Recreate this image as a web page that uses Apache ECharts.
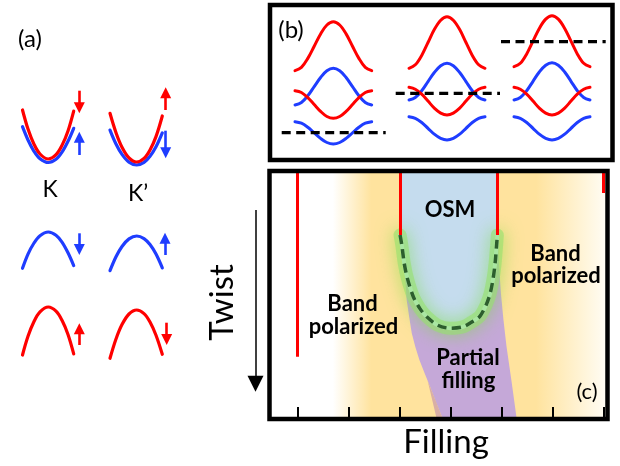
<!DOCTYPE html>
<html><head><meta charset="utf-8">
<script src="https://cdn.jsdelivr.net/npm/echarts@6/dist/echarts.min.js"></script>
<style>html,body{margin:0;padding:0;background:#fff}#c{width:620px;height:466px}</style>
</head><body><div id="c"></div>
<script>
// ===== Panel (a): valley dispersions, k (x) vs energy (y) =====
const kX  = [1.25, 1.8, 2.4, 3.0, 3.83, 4.6, 5.2, 5.8, 6.37];
const kpX = [10.0, 10.6, 11.2, 11.9, 12.67, 13.4, 14.0, 14.6, 15.23];
const aKcondRed   = [27.0, 25.09, 23.58, 22.6, 22.1, 22.53, 23.46, 24.91, 26.89];
const aKcondBlue  = [25.33, 24.0, 22.87, 22.13, 21.75, 22.07, 22.78, 23.87, 25.17];
const aKpCondRed  = [26.67, 24.73, 23.28, 22.21, 21.8, 22.16, 23.01, 24.34, 26.4];
const aKpCondBlue = [24.99, 23.6, 22.56, 21.79, 21.5, 21.76, 22.37, 23.32, 24.71];
const aKvalBlue   = [11.17, 12.59, 13.7, 14.43, 14.8, 14.48, 13.79, 12.72, 11.44];
const aKpValBlue  = [10.93, 12.32, 13.35, 14.11, 14.4, 14.14, 13.54, 12.59, 11.21];
const aKvalRed    = [2.5, 4.37, 5.85, 6.81, 7.3, 6.88, 5.97, 4.55, 2.61];
const aKpValRed   = [2.17, 4.1, 5.54, 6.6, 7.0, 6.64, 5.8, 4.48, 2.57];
// spin arrows: [x, tail, tip]
const aArrowsRed  = [[6.93, 28.93, 26.67], [15.57, 27.0, 29.27], [6.93, 3.5, 5.67], [15.67, 5.73, 3.5]];
const aArrowsBlue = [[6.93, 22.5, 24.83], [15.57, 24.93, 22.17], [6.93, 14.67, 12.5], [15.5, 12.5, 14.73]];

// ===== Panel (b): band sketches =====
const bX1 = [2.5, 3.14, 3.78, 4.42, 5.06, 5.69, 6.33, 6.97, 7.61, 8.25, 8.89, 9.53, 10.17];
const bX2 = [13.9, 14.53, 15.17, 15.8, 16.43, 17.07, 17.7, 18.33, 18.97, 19.6, 20.23, 20.87, 21.5];
const bX3 = [24.4, 25.03, 25.67, 26.3, 26.93, 27.57, 28.2, 28.83, 29.47, 30.1, 30.73, 31.37, 32.0];
const b1RedTop = [8.93, 9.26, 10.16, 11.38, 12.61, 13.5, 13.83, 13.5, 12.61, 11.38, 10.16, 9.26, 8.93];
const b1BlueMid = [5.5, 5.75, 6.42, 7.34, 8.25, 8.92, 9.17, 8.92, 8.25, 7.34, 6.42, 5.75, 5.5];
const b1RedMid = [6.93, 6.75, 6.24, 5.55, 4.86, 4.35, 4.17, 4.35, 4.86, 5.55, 6.24, 6.75, 6.93];
const b1BlueBot = [3.83, 3.68, 3.27, 2.72, 2.16, 1.75, 1.6, 1.75, 2.16, 2.72, 3.27, 3.68, 3.83];
const b2RedTop = [9.17, 9.52, 10.46, 11.75, 13.04, 13.98, 14.33, 13.98, 13.04, 11.75, 10.46, 9.52, 9.17];
const b2BlueMid = [6.0, 6.25, 6.92, 7.84, 8.75, 9.42, 9.67, 9.42, 8.75, 7.84, 6.92, 6.25, 6.0];
const b2RedMid = [7.27, 7.08, 6.58, 5.89, 5.19, 4.69, 4.5, 4.69, 5.19, 5.89, 6.58, 7.08, 7.27];
const b2BlueBot = [4.33, 4.17, 3.75, 3.17, 2.58, 2.16, 2.0, 2.16, 2.58, 3.17, 3.75, 4.17, 4.33];
const b3RedTop = [9.33, 9.67, 10.61, 11.88, 13.16, 14.09, 14.43, 14.09, 13.16, 11.88, 10.61, 9.67, 9.33];
const b3BlueMid = [6.0, 6.25, 6.93, 7.87, 8.8, 9.48, 9.73, 9.48, 8.8, 7.87, 6.93, 6.25, 6.0];
const b3RedMid = [7.27, 7.08, 6.58, 5.89, 5.19, 4.69, 4.5, 4.69, 5.19, 5.89, 6.58, 7.08, 7.27];
const b3BlueBot = [4.33, 4.17, 3.75, 3.17, 2.58, 2.16, 2.0, 2.16, 2.58, 3.17, 3.75, 4.17, 4.33];
const bFermi = [[[1.17, 2.73], [11.57, 2.73]], [[12.57, 6.67], [23.0, 6.67]], [[23.1, 11.83], [33.57, 11.83]]];

// ===== Panel (c): phase diagram, filling (x) vs twist (y, downward) =====
const fillingTicks = [-3, -2, -1, 0, 1, 2, 3];
const insulatorLines = [[-3, 0.749], [-0.99, 0.258], [0.92, 0.258], [3.0, 0.089]]; // [filling, twist end]
const bandPolarizedSpan = [-2.31, 3.083];
const osmBoundary = [[-0.99, 0.258], [-0.955, 0.30], [-0.91, 0.37], [-0.85, 0.43], [-0.73, 0.507], [-0.60, 0.555],
  [-0.466, 0.588], [-0.25, 0.622], [0.0, 0.634], [0.25, 0.628], [0.45, 0.605], [0.58, 0.585], [0.70, 0.54],
  [0.78, 0.493], [0.84, 0.43], [0.876, 0.372], [0.905, 0.30], [0.92, 0.258]];
const partialRegion = [[-0.90, 0.40], [-0.88, 0.46], [-0.86, 0.52], [-0.81, 0.59], [-0.76, 0.654], [-0.69, 0.71],
  [-0.61, 0.762], [-0.51, 0.815], [-0.40, 0.87], [-0.28, 0.935], [-0.15, 1.0], [1.30, 1.0], [1.20, 0.85], [1.10, 0.708],
  [1.04, 0.60], [0.99, 0.493], [0.95, 0.37], [0.93, 0.258], [0.0, 0.258], [-0.90, 0.258]];
const mixedWedge = [[-0.45, 0.845], [-0.27, 1.0], [-0.15, 1.0], [-0.40, 0.87]];
const twistArrow = [0, 1]; // tail, tip (fraction of arrow span)

const gridA = {left: 10, top: 80, width: 170, height: 300};
const gridB = {left: 270, top: 5, width: 342.5, height: 155};
const gridC = {left: 269.5, top: 171, width: 338, height: 248};
const gridD = {left: 245, top: 210, width: 21, height: 181.7};

const RED = '#FF0000', BLUE = '#1F3DFF';
const FONT = 'Lato, "Open Sans", sans-serif';
const zip = (xs, ys) => xs.map((x, i) => [x, ys[i]]);
function curve(gi, data, color, w, z, extra) {
  return Object.assign({type: 'line', xAxisIndex: gi, yAxisIndex: gi, data: data, smooth: 0.35,
    symbol: 'none', silent: true, animation: false, z: z || 2,
    lineStyle: {color: color, width: w, cap: 'round'}}, extra || {});
}
// arrow head symbol is centred on the line end; pull the end back by half a head so the tip lands on "tip"
function arrows(gi, list, color, width, size, halfHead) {
  return {type: 'lines', coordinateSystem: 'cartesian2d', xAxisIndex: gi, yAxisIndex: gi, silent: true, animation: false,
    clip: false, symbol: ['none', 'triangle'], symbolSize: size, z: 5,
    itemStyle: {color: color},
    lineStyle: {color: color, width: width, opacity: 1},
    data: list.map(a => ({coords: [[a[0], a[1]], [a[0], a[2] - Math.sign(a[2] - a[1]) * halfHead]]}))};
}

const series = [];
// (a)
series.push(curve(0, zip(kX, aKcondBlue), BLUE, 3.2, 2));
series.push(curve(0, zip(kX, aKcondRed), RED, 3.2, 3));
series.push(curve(0, zip(kpX, aKpCondBlue), BLUE, 3.2, 2));
series.push(curve(0, zip(kpX, aKpCondRed), RED, 3.2, 3));
series.push(curve(0, zip(kX, aKvalBlue), BLUE, 3.2, 2));
series.push(curve(0, zip(kpX, aKpValBlue), BLUE, 3.2, 2));
series.push(curve(0, zip(kX, aKvalRed), RED, 3.2, 2));
series.push(curve(0, zip(kpX, aKpValRed), RED, 3.2, 2));
series.push(arrows(0, aArrowsRed, RED, 2.6, [11, 11], 0.55));
series.push(arrows(0, aArrowsBlue, BLUE, 2.6, [11, 11], 0.55));
// (b)
[[bX1, b1RedTop, b1BlueMid, b1RedMid, b1BlueBot], [bX2, b2RedTop, b2BlueMid, b2RedMid, b2BlueBot],
 [bX3, b3RedTop, b3BlueMid, b3RedMid, b3BlueBot]].forEach(c => {
  series.push(curve(1, zip(c[0], c[1]), RED, 3, 2));
  series.push(curve(1, zip(c[0], c[2]), BLUE, 3, 2));
  series.push(curve(1, zip(c[0], c[3]), RED, 3, 3));
  series.push(curve(1, zip(c[0], c[4]), BLUE, 3, 2));
});
bFermi.forEach(seg => series.push(Object.assign(curve(1, seg, '#000', 3.2, 6), {smooth: false,
  lineStyle: {color: '#000', width: 3.2, type: [9, 5.5]}})));
// (c)
series.push({type: 'custom', xAxisIndex: 2, yAxisIndex: 2, data: [[0, 0]], z: 1, silent: true, animation: false,
  renderItem: (p, api) => {
    const a = api.coord([bandPolarizedSpan[0], 0]), b = api.coord([bandPolarizedSpan[1], 1]);
    return {type: 'rect', shape: {x: a[0], y: a[1], width: b[0] - a[0], height: b[1] - a[1]},
      style: {fill: new echarts.graphic.LinearGradient(0, 0, 1, 0, [
        {offset: 0, color: '#FFFFFF'}, {offset: 0.14, color: '#FFE39E'}, {offset: 0.74, color: '#FFE39E'},
        {offset: 1, color: '#FFFDF6'}])}};
  }});
series.push({type: 'custom', xAxisIndex: 2, yAxisIndex: 2, data: [[0, 0]], z: 2, silent: true, animation: false,
  renderItem: (p, api) => ({type: 'polygon', shape: {points: partialRegion.map(pt => api.coord(pt))}, style: {fill: '#C5A8D8'}})});
series.push({type: 'custom', xAxisIndex: 2, yAxisIndex: 2, data: [[0, 0]], z: 2, silent: true, animation: false,
  renderItem: (p, api) => ({type: 'polygon', shape: {points: mixedWedge.map(pt => api.coord(pt))}, style: {fill: '#D9AFA6'}})});
series.push(curve(2, osmBoundary, '#C5DCEE', 0, 3, {smooth: 0.3, areaStyle: {origin: 'start', color: '#C5DCEE', opacity: 1}}));
series.push(curve(2, osmBoundary, 'rgba(150,225,110,0.6)', 13, 4, {smooth: 0.3,
  lineStyle: {color: 'rgba(150,225,110,0.6)', width: 13, cap: 'round', shadowBlur: 18, shadowColor: 'rgba(120,220,60,1)'}}));
series.push(curve(2, osmBoundary, '#A9E6A2', 4, 5, {smooth: 0.3}));
series.push(curve(2, osmBoundary, '#2D5E2D', 3.5, 6, {smooth: 0.3,
  lineStyle: {color: '#2D5E2D', width: 3.5, type: [9, 5.5]}}));
series.push({type: 'lines', coordinateSystem: 'cartesian2d', xAxisIndex: 2, yAxisIndex: 2, silent: true, animation: false,
  z: 7, lineStyle: {color: RED, width: 3, opacity: 1}, symbol: 'none',
  data: insulatorLines.map(l => ({coords: [[l[0], 0], [l[0], l[1]]]}))});
// twist arrow
series.push(arrows(3, [[0.5, twistArrow[0], twistArrow[1]]], '#000', 1.5, [15, 16], 8 / gridD.height));

const hiddenAxis = (min, max, inverse) => ({type: 'value', min: min, max: max, inverse: !!inverse, show: false});
const xAxis = [hiddenAxis(0, 17), hiddenAxis(0, 34.25), {
  type: 'value', gridIndex: 2, min: -3.554, max: 3.083, z: 10, position: 'bottom',
  axisLine: {show: false, onZero: false}, axisLabel: {show: false}, splitLine: {show: false},
  axisTick: {show: true, inside: true, length: 12, customValues: fillingTicks, lineStyle: {color: '#000', width: 2}}
}, hiddenAxis(0, 1)];
xAxis[0].gridIndex = 0; xAxis[1].gridIndex = 1; xAxis[3].gridIndex = 3;
const yAxis = [hiddenAxis(0, 30), hiddenAxis(0, 15.5), hiddenAxis(0, 1, true), hiddenAxis(0, 1, true)];
yAxis.forEach((a, i) => a.gridIndex = i);

function txt(s, x, y, size, weight, rot) {
  return {type: 'text', x: x, y: y, rotation: rot || 0, z: 101, silent: true,
    style: {text: s, fill: '#000', font: (weight || 'normal') + ' ' + size + 'px ' + FONT,
      align: 'center', verticalAlign: 'middle', textAlign: 'center', textVerticalAlign: 'middle'}};
}
const frame = g => ({type: 'rect', z: 100, silent: true, shape: {x: g.left, y: g.top, width: g.width, height: g.height},
  style: {fill: 'none', stroke: '#000', lineWidth: 4.5}});

const graphic = [
  frame(gridB), frame(gridC),
  txt('(a)', 30, 39, 24), txt('K', 50, 190, 23), txt('K\u2019', 138, 193.5, 23),
  txt('(b)', 291, 30, 24), txt('(c)', 587, 391.5, 22),
  txt('OSM', 450, 210, 22, 'bold'),
  txt('Band', 352.5, 303.5, 22, 'bold'), txt('polarized', 353.5, 327, 22, 'bold'),
  txt('Band', 555.5, 253.5, 22, 'bold'), txt('polarized', 556, 276, 22, 'bold'),
  txt('Partial', 468, 357.5, 22, 'bold'), txt('filling', 468.5, 380.5, 22, 'bold'),
  txt('Filling', 446, 442, 33), txt('Twist', 222, 302.5, 33, 'normal', Math.PI / 2)
];

const chart = echarts.init(document.getElementById('c'), null, {renderer: 'canvas'});
chart.setOption({
  animation: false, backgroundColor: '#fff',
  grid: [gridA, gridB, gridC, gridD].map(g => Object.assign({containLabel: false, show: false}, g)),
  xAxis: xAxis, yAxis: yAxis, series: series, graphic: graphic
});
</script></body></html>
